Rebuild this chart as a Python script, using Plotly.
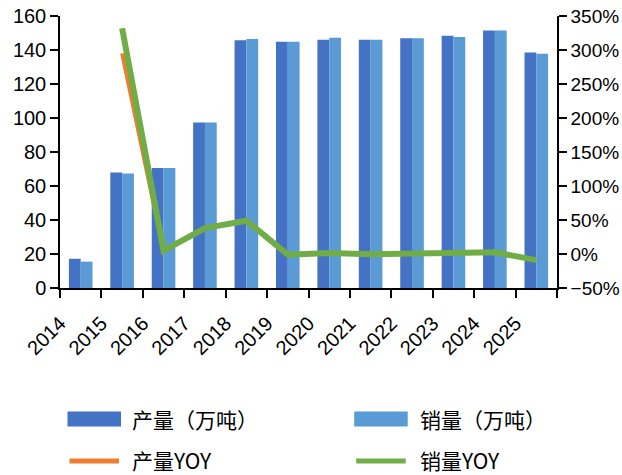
import plotly.graph_objects as go

years = ["2014", "2015", "2016", "2017", "2018", "2019", "2020", "2021", "2022", "2023", "2024", "2025"]
production = [17.2, 68.0, 70.6, 97.4, 145.7, 144.9, 146.1, 146.0, 146.9, 148.4, 151.4, 138.6]
sales = [15.5, 67.3, 70.6, 97.4, 146.5, 144.9, 147.2, 146.0, 146.9, 147.6, 151.4, 137.8]
production_yoy = [None, 295, 4, 38, 50, -0.5, 1, 0, 0.5, 1.3, 2.5, -8.5]
sales_yoy = [None, 332, 5, 38, 49, -1, 1.5, -0.5, 0.5, 0.5, 2.5, -9]

legend_names = ["产量（万吨）", "销量（万吨）", "产量YOY", "销量YOY"]
c_prod, c_sales, c_pyoy, c_syoy = "#4472C4", "#5B9BD5", "#ED7D31", "#70AD47"

W, H = 622, 475
L, R, T, B = 60, 556.7, 16, 288
xpos = [i + 0.5 for i in range(len(years))]

fig = go.Figure()
fig.add_trace(go.Bar(x=xpos, y=production, name=legend_names[0], marker_color=c_prod,
                     marker_line_width=0, offsetgroup="a"))
fig.add_trace(go.Bar(x=xpos, y=sales, name=legend_names[1], marker_color=c_sales,
                     marker_line_width=0, offsetgroup="b"))
fig.add_trace(go.Scatter(x=xpos, y=production_yoy, name=legend_names[2], yaxis="y2",
                         mode="lines", line=dict(color=c_pyoy, width=4)))
fig.add_trace(go.Scatter(x=xpos, y=sales_yoy, name=legend_names[3], yaxis="y2",
                         mode="lines", line=dict(color=c_syoy, width=6)))

base_font = "Liberation Sans, Arial, sans-serif"

fig.update_layout(
    width=W, height=H,
    margin=dict(l=L, r=W - R, t=T, b=H - B, pad=0, autoexpand=False),
    plot_bgcolor="white", paper_bgcolor="white",
    showlegend=False,
    barmode="group", bargap=0.43, bargroupgap=0,
    xaxis=dict(range=[0, 12], tickmode="array", tickvals=list(range(13)),
               ticktext=years + [""], tickangle=-45, automargin=False,
               showline=True, linecolor="#000", linewidth=1.5,
               ticks="outside", ticklen=8, tickwidth=1.5, tickcolor="#000",
               ticklabelstandoff=6,
               showgrid=False, zeroline=False,
               tickfont=dict(family=base_font, size=20, color="#000")),
    yaxis=dict(range=[0, 160], tickmode="linear", tick0=0, dtick=20, automargin=False,
               showline=True, linecolor="#000", linewidth=1.5,
               ticks="outside", ticklen=8, tickwidth=1.5, tickcolor="#000",
               showgrid=False, zeroline=False,
               tickfont=dict(family=base_font, size=20, color="#000")),
    yaxis2=dict(range=[-50, 350], tickmode="linear", tick0=-50, dtick=50, ticksuffix="%",
                overlaying="y", side="right", automargin=False,
                showline=True, linecolor="#000", linewidth=1.5,
                ticks="outside", ticklen=8, tickwidth=1.5, tickcolor="#000",
                showgrid=False, zeroline=False,
                tickfont=dict(family=base_font, size=19, color="#000")),
)

# custom legend (pixel helpers)
def px(x):
    return (x - L) / (R - L)

def py(y):
    return (B - y) / (B - T)

legend_font = dict(family="Noto Sans CJK SC, sans-serif", size=21, color="#000")
rows = [419, 460]
cols = [(67.5, 121, 131), (354, 407.5, 418.6)]
items = [(legend_names[0], c_prod, "rect", 0, 0), (legend_names[1], c_sales, "rect", 0, 1),
         (legend_names[2], c_pyoy, "line", 1, 0), (legend_names[3], c_syoy, "line", 1, 1)]
for name, color, kind, r, c in items:
    x0, x1, xt = cols[c]
    yc = rows[r]
    if kind == "rect":
        fig.add_shape(type="rect", xref="paper", yref="paper",
                      x0=px(x0), x1=px(x1), y0=py(yc - 7.5), y1=py(yc + 7.5),
                      fillcolor=color, line_width=0)
    else:
        fig.add_shape(type="line", xref="paper", yref="paper",
                      x0=px(x0 + 2), x1=px(x1 - 2), y0=py(yc + 1), y1=py(yc + 1),
                      line=dict(color=color, width=5))
    fig.add_annotation(xref="paper", yref="paper", x=px(xt), y=py(yc), text=name,
                       showarrow=False, xanchor="left", yanchor="middle", font=legend_font,
                       borderpad=0)

fig.write_html("out.html", config={"displayModeBar": False},
               post_script="document.body.style.margin='0';")
